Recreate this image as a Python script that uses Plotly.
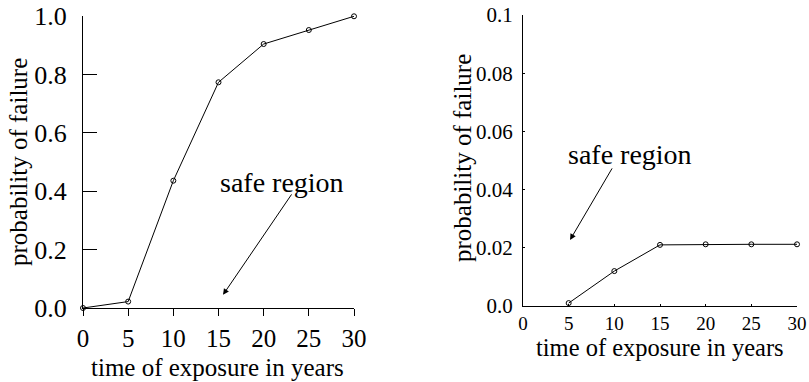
import plotly.graph_objects as go

years = [0, 5, 10, 15, 20, 25, 30]
p_left = [0.0, 0.022, 0.436, 0.773, 0.904, 0.952, 0.999]
years_right = [5, 10, 15, 20, 25, 30]
p_right = [0.001, 0.012, 0.021, 0.0212, 0.0212, 0.0212]

x_ticks = [0, 5, 10, 15, 20, 25, 30]
y_ticks_left = [0.0, 0.2, 0.4, 0.6, 0.8, 1.0]
y_ticklabels_left = ["0.0", "0.2", "0.4", "0.6", "0.8", "1.0"]
y_ticks_right = [0.0, 0.02, 0.04, 0.06, 0.08, 0.1]
y_ticklabels_right = ["0.0", "0.02", "0.04", "0.06", "0.08", "0.1"]

FONT = "Liberation Serif"
W, H = 809, 382

fig = go.Figure()
line_style = dict(color="black", width=1)
marker_style = dict(symbol="circle-open", size=5, color="black", line=dict(width=1, color="black"))

fig.add_trace(go.Scatter(x=years, y=p_left, mode="lines+markers", line=line_style,
                         marker=marker_style, cliponaxis=False, xaxis="x", yaxis="y", showlegend=False))
fig.add_trace(go.Scatter(x=years_right, y=p_right, mode="lines+markers", line=line_style,
                         marker=marker_style, cliponaxis=False, xaxis="x2", yaxis="y2", showlegend=False))

axis_common = dict(showgrid=False, zeroline=False, showline=True, linecolor="black", linewidth=1,
                   tickcolor="black", tickwidth=1, automargin=False)

fig.update_layout(
    width=W, height=H, margin=dict(l=0, r=0, t=0, b=0, autoexpand=False),
    paper_bgcolor="white", plot_bgcolor="white",
    font=dict(family=FONT, color="black"),
    xaxis=dict(domain=[83 / W, 354 / W], range=[0, 30], tickvals=x_ticks,
               ticks="outside", ticklen=7, ticklabelstandoff=1,
               tickfont=dict(size=25), anchor="y", **axis_common),
    yaxis=dict(domain=[1 - 308 / H, 1 - 16 / H], range=[0, 1], tickvals=y_ticks_left,
               ticktext=y_ticklabels_left, ticks="inside", ticklen=14, ticklabelstandoff=10,
               tickfont=dict(size=26), anchor="x", **axis_common),
    xaxis2=dict(domain=[523 / W, 797 / W], range=[0, 30], tickvals=x_ticks,
                ticks="inside", ticklen=2, ticklabelstandoff=0,
                tickfont=dict(size=19), anchor="y2", **axis_common),
    yaxis2=dict(domain=[1 - 306 / H, 1 - 15 / H], range=[0, 0.1], tickvals=y_ticks_right,
                ticktext=y_ticklabels_right, ticks="inside", ticklen=2, ticklabelstandoff=5,
                tickfont=dict(size=21), anchor="x2", **axis_common),
)

annotations = [
    dict(text="time of exposure in years", xref="paper", yref="paper", x=218 / W, y=1 - 367 / H,
         showarrow=False, font=dict(size=25), xanchor="center", yanchor="middle"),
    dict(text="probability of failure", xref="paper", yref="paper", x=19 / W, y=1 - 162 / H,
         showarrow=False, font=dict(size=25), textangle=-90,
         xanchor="center", yanchor="middle"),
    dict(text="time of exposure in years", xref="paper", yref="paper", x=660 / W, y=1 - 347 / H,
         showarrow=False, font=dict(size=24.5), xanchor="center", yanchor="middle"),
    dict(text="probability of failure", xref="paper", yref="paper", x=462 / W, y=1 - 158 / H,
         showarrow=False, font=dict(size=25), textangle=-90,
         xanchor="center", yanchor="middle"),
    # safe region labels
    dict(text="safe region", xref="x", yref="y", x=22.0, y=0.43, showarrow=False,
         font=dict(size=28), xanchor="center", yanchor="middle"),
    dict(text="", xref="x", yref="y", x=15.5, y=0.045, ax=23.2, ay=0.394, axref="x", ayref="y",
         showarrow=True, arrowhead=2, arrowsize=1.2, arrowwidth=1, arrowcolor="black"),
    dict(text="safe region", xref="x2", yref="y2", x=11.7, y=0.052, showarrow=False,
         font=dict(size=28), xanchor="center", yanchor="middle"),
    dict(text="", xref="x2", yref="y2", x=5.15, y=0.0227, ax=9.85, ay=0.0478, axref="x2", ayref="y2",
         showarrow=True, arrowhead=2, arrowsize=1.2, arrowwidth=1, arrowcolor="black"),
]
fig.update_layout(annotations=annotations)

fig.write_html("out.html")
